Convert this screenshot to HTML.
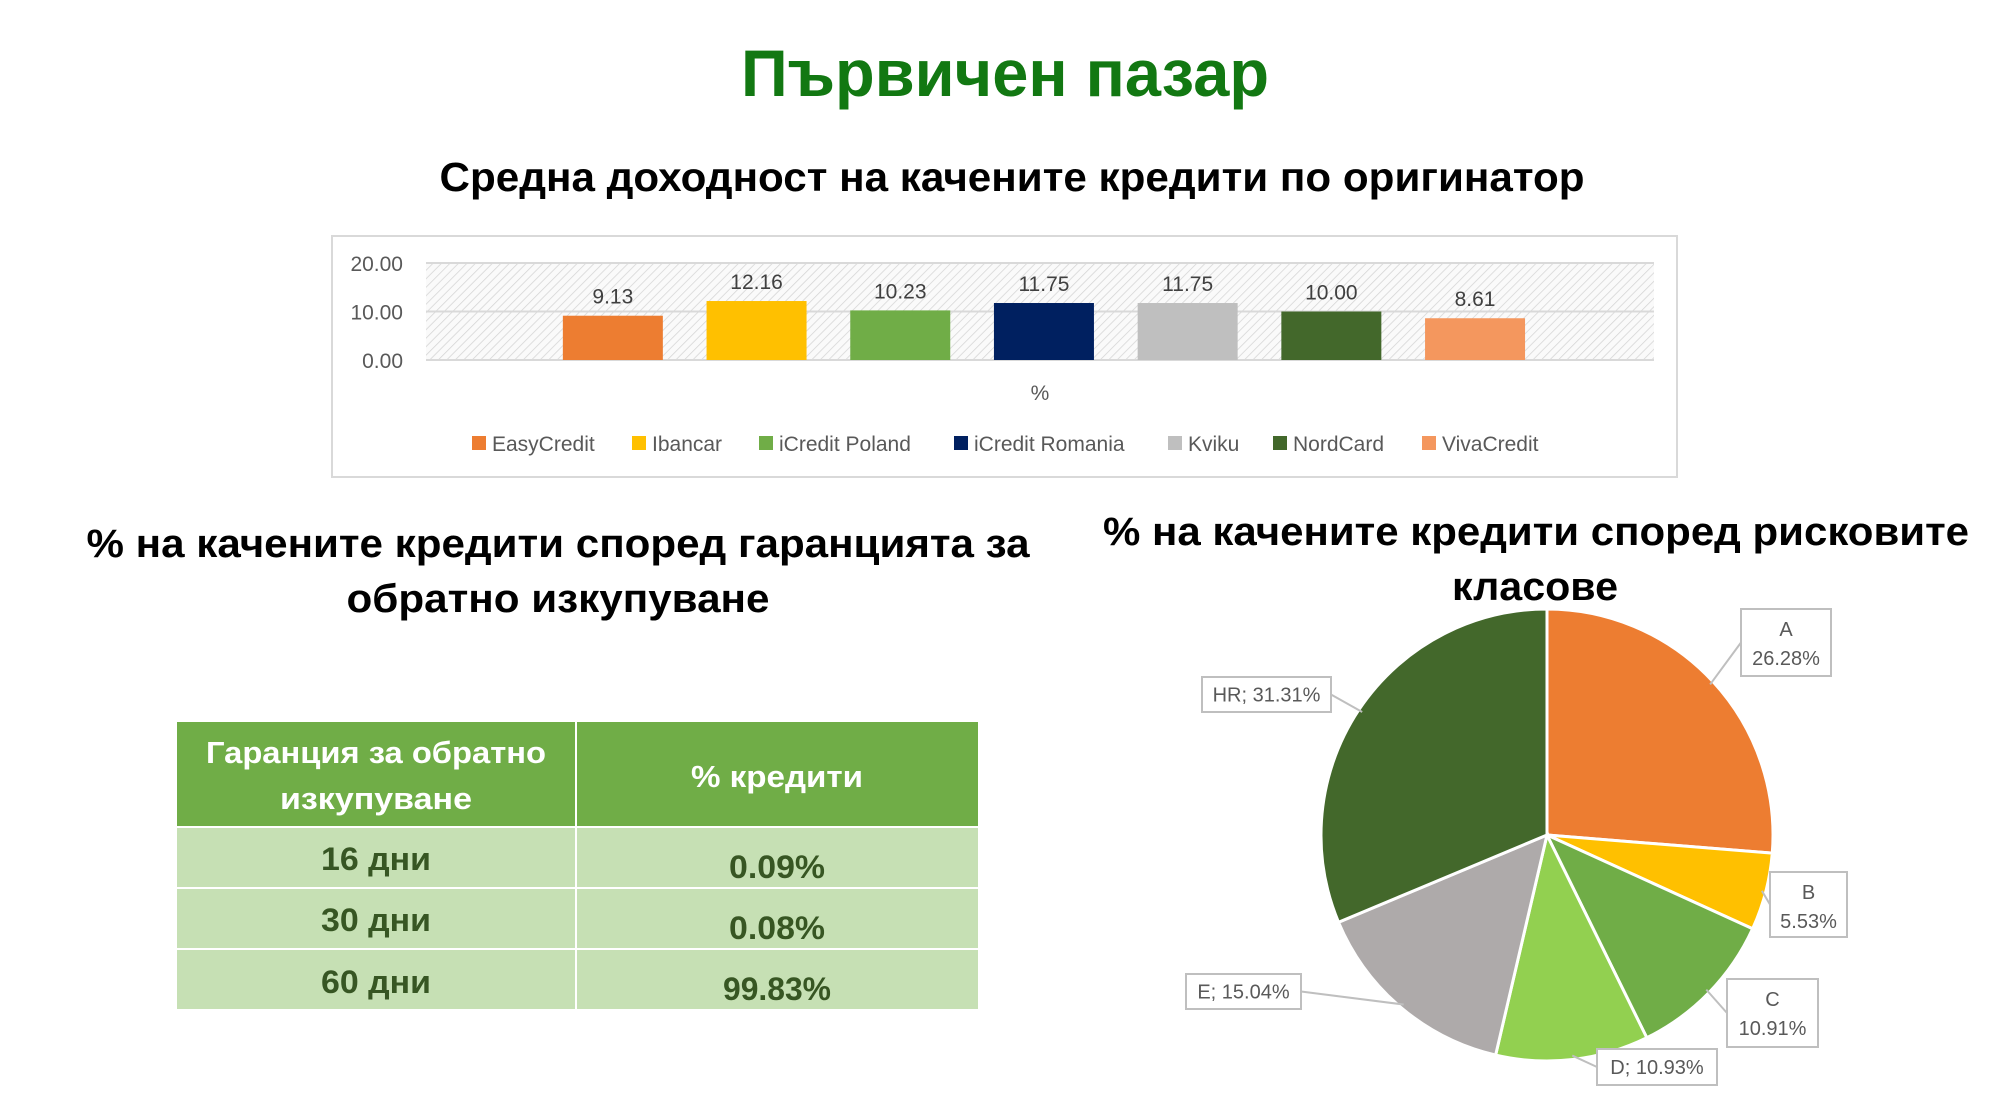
<!DOCTYPE html>
<html><head><meta charset="utf-8"><style>
html,body{margin:0;padding:0;background:#fff;}
svg{display:block;font-family:"Liberation Sans","DejaVu Sans",sans-serif;}
</style></head><body>
<svg id="page" width="2000" height="1115" viewBox="0 0 2000 1115" xmlns="http://www.w3.org/2000/svg">
<defs>
<pattern id="hatch" width="6" height="6" patternUnits="userSpaceOnUse" patternTransform="rotate(45)">
<rect width="6" height="6" fill="#fafafa"/><line x1="0" y1="0" x2="0" y2="6" stroke="#d4d4d4" stroke-width="1.5"/>
</pattern>
</defs>
<text x="1005" y="96" text-anchor="middle" font-size="66" font-weight="bold" fill="#127812" textLength="528" lengthAdjust="spacingAndGlyphs">Първичен пазар</text>
<text x="1012" y="191" text-anchor="middle" font-size="41" font-weight="bold" fill="#000" textLength="1145" lengthAdjust="spacingAndGlyphs">Средна доходност на качените кредити по оригинатор</text>
<rect x="332" y="236" width="1345" height="241" fill="#fff" stroke="#d9d9d9" stroke-width="2"/>
<rect x="426" y="263" width="1228" height="97" fill="url(#hatch)"/>
<g id="bars"></g>
<text x="1040" y="400" text-anchor="middle" font-size="21" fill="#595959">%</text>
<g id="legend"></g>

<text x="558" y="557" text-anchor="middle" font-size="40" font-weight="bold" fill="#000" textLength="943" lengthAdjust="spacingAndGlyphs">% на качените кредити според гаранцията за</text>
<text x="558" y="612" text-anchor="middle" font-size="40" font-weight="bold" fill="#000" textLength="423" lengthAdjust="spacingAndGlyphs">обратно изкупуване</text>
<g>
<rect x="177" y="722" width="801" height="104" fill="#70ad47"/>
<rect x="177" y="828" width="801" height="59" fill="#c6e0b4"/>
<rect x="177" y="889" width="801" height="59" fill="#c6e0b4"/>
<rect x="177" y="950" width="801" height="59" fill="#c6e0b4"/>
<line x1="576" y1="722" x2="576" y2="1009" stroke="#fff" stroke-width="2"/>
<text x="376" y="763" text-anchor="middle" font-size="31" font-weight="bold" fill="#fff" textLength="340" lengthAdjust="spacingAndGlyphs">Гаранция за обратно</text>
<text x="376" y="809" text-anchor="middle" font-size="31" font-weight="bold" fill="#fff" textLength="192" lengthAdjust="spacingAndGlyphs">изкупуване</text>
<text x="777" y="787" text-anchor="middle" font-size="31" font-weight="bold" fill="#fff" textLength="172" lengthAdjust="spacingAndGlyphs">% кредити</text>
<text x="376" y="870" text-anchor="middle" font-size="32" font-weight="bold" fill="#375623" textLength="110" lengthAdjust="spacingAndGlyphs">16 дни</text>
<text x="376" y="931" text-anchor="middle" font-size="32" font-weight="bold" fill="#375623" textLength="110" lengthAdjust="spacingAndGlyphs">30 дни</text>
<text x="376" y="993" text-anchor="middle" font-size="32" font-weight="bold" fill="#375623" textLength="110" lengthAdjust="spacingAndGlyphs">60 дни</text>
<text x="777" y="878" text-anchor="middle" font-size="32" font-weight="bold" fill="#375623" textLength="96" lengthAdjust="spacingAndGlyphs">0.09%</text>
<text x="777" y="939" text-anchor="middle" font-size="32" font-weight="bold" fill="#375623" textLength="96" lengthAdjust="spacingAndGlyphs">0.08%</text>
<text x="777" y="1000" text-anchor="middle" font-size="32" font-weight="bold" fill="#375623" textLength="108" lengthAdjust="spacingAndGlyphs">99.83%</text>
</g>

<text x="1536" y="545" text-anchor="middle" font-size="40" font-weight="bold" fill="#000" textLength="866" lengthAdjust="spacingAndGlyphs">% на качените кредити според рисковите</text>
<text x="1535" y="600" text-anchor="middle" font-size="40" font-weight="bold" fill="#000" textLength="166" lengthAdjust="spacingAndGlyphs">класове</text>
<g id="pie"></g>
<g id="pielabels"></g>
</svg>
<script>
const barCategories = ["EasyCredit","Ibancar","iCredit Poland","iCredit Romania","Kviku","NordCard","VivaCredit"];
const barValues = [9.13,12.16,10.23,11.75,11.75,10.00,8.61];
const yTicks = [0,10,20];
const barColors = ["#ed7d31","#ffc000","#70ad47","#002060","#bfbfbf","#43682b","#f4975e"];
const pieClasses = ["A","B","C","D","E","HR"];
const pieValues = [26.28,5.53,10.91,10.93,15.04,31.31];
const pieColors = ["#ed7d31","#ffc000","#70ad47","#92d050","#aeaaaa","#43682b"];

const NS="http://www.w3.org/2000/svg";
function mk(tag,attrs,parent){const e=document.createElementNS(NS,tag);for(const k in attrs)e.setAttribute(k,attrs[k]);parent.appendChild(e);return e;}
// bar chart axes
const plotL=426,plotR=1654,plotT=263,plotB=360,yMax=20;
function yScale(v){return plotB-(v/yMax)*(plotB-plotT);}
const bandStart=541,bandStep=143.7,barW=100;
function xCenter(i){return bandStart+bandStep*(i+0.5);}
const bars=document.getElementById('bars');
yTicks.forEach(t=>{
  const g=mk('line',{x1:plotL,x2:plotR,y1:yScale(t),y2:yScale(t),stroke:'#d9d9d9','stroke-width':2},bars);
  
  
  const tx=mk('text',{x:403,y:yScale(t)+8,'text-anchor':'end','font-size':21,fill:'#595959'},bars);
  
  
  tx.textContent=t.toFixed(2);
});
barValues.forEach((v,i)=>{
  const r=mk('rect',{x:xCenter(i)-barW/2,y:yScale(v),width:barW,height:plotB-yScale(v),fill:barColors[i]},bars);
  
  
  const t=mk('text',{x:xCenter(i),y:yScale(yMax)+ (yScale(v)-yScale(yMax))-12,'text-anchor':'middle','font-size':21,fill:'#404040'},bars);
  
  
  t.textContent=v.toFixed(2);
});
// legend
const legend=document.getElementById('legend');
const legX=[472,632,759,954,1168,1273,1422];
barCategories.forEach((c,i)=>{
  const g=mk('g',{},legend);
  
  
  mk('rect',{x:legX[i],y:436,width:14,height:14,fill:barColors[i]},g);
  const t=mk('text',{x:legX[i]+20,y:451,'font-size':21,fill:'#595959'},g);
  t.textContent=c;
});
// pie
const cx=1547,cy=835,R=226;
const pie=document.getElementById('pie');
const total=pieValues.reduce((a,b)=>a+b,0);
let acc=0;
function pt(frac,r){const a=frac*2*Math.PI;return [cx+r*Math.sin(a),cy-r*Math.cos(a)];}
pieValues.forEach((v,i)=>{
  const f0=acc/total,f1=(acc+v)/total;acc+=v;
  const [x0,y0]=pt(f0,R),[x1,y1]=pt(f1,R);
  const large=(f1-f0)>0.5?1:0;
  const p=mk('path',{d:`M${cx},${cy} L${x0},${y0} A${R},${R} 0 ${large} 1 ${x1},${y1} Z`,fill:pieColors[i],stroke:'#fff','stroke-width':3},pie);
  
  
});
// labels (positions of callout boxes)
const labBoxes=[[1741,609,90,67,1],[1770,872,77,65,1],[1727,979,91,68,1],[1597,1049,120,36,0],[1186,974,115,35,0],[1202,677,129,35,0]];
const pl=document.getElementById('pielabels');
acc=0;
pieValues.forEach((v,i)=>{
  const mid=(acc+v/2)/total;acc+=v;
  const [bx,by,bw,bh,two]=labBoxes[i];
  const [ex,ey]=pt(mid,R-4);
  const g=mk('g',{},pl);
  
  
  const ax = ex<cx ? bx+bw : bx;
  mk('polyline',{points:`${ex},${ey} ${ax},${by+bh/2}`,fill:'none',stroke:'#bfbfbf','stroke-width':2},g);
  mk('rect',{x:bx,y:by,width:bw,height:bh,fill:'#fff',stroke:'#bfbfbf','stroke-width':2},g);
  const pct=v.toFixed(2)+'%';
  if(two){
    const t1=mk('text',{x:bx+bw/2,y:by+27,'text-anchor':'middle','font-size':20,fill:'#595959'},g);t1.textContent=pieClasses[i];
    const t2=mk('text',{x:bx+bw/2,y:by+56,'text-anchor':'middle','font-size':20,fill:'#595959'},g);t2.textContent=pct;
  }else{
    const t=mk('text',{x:bx+bw/2,y:by+bh/2+7,'text-anchor':'middle','font-size':20,fill:'#595959'},g);t.textContent=pieClasses[i]+'; '+pct;
  }
});
</script>
</body></html>
